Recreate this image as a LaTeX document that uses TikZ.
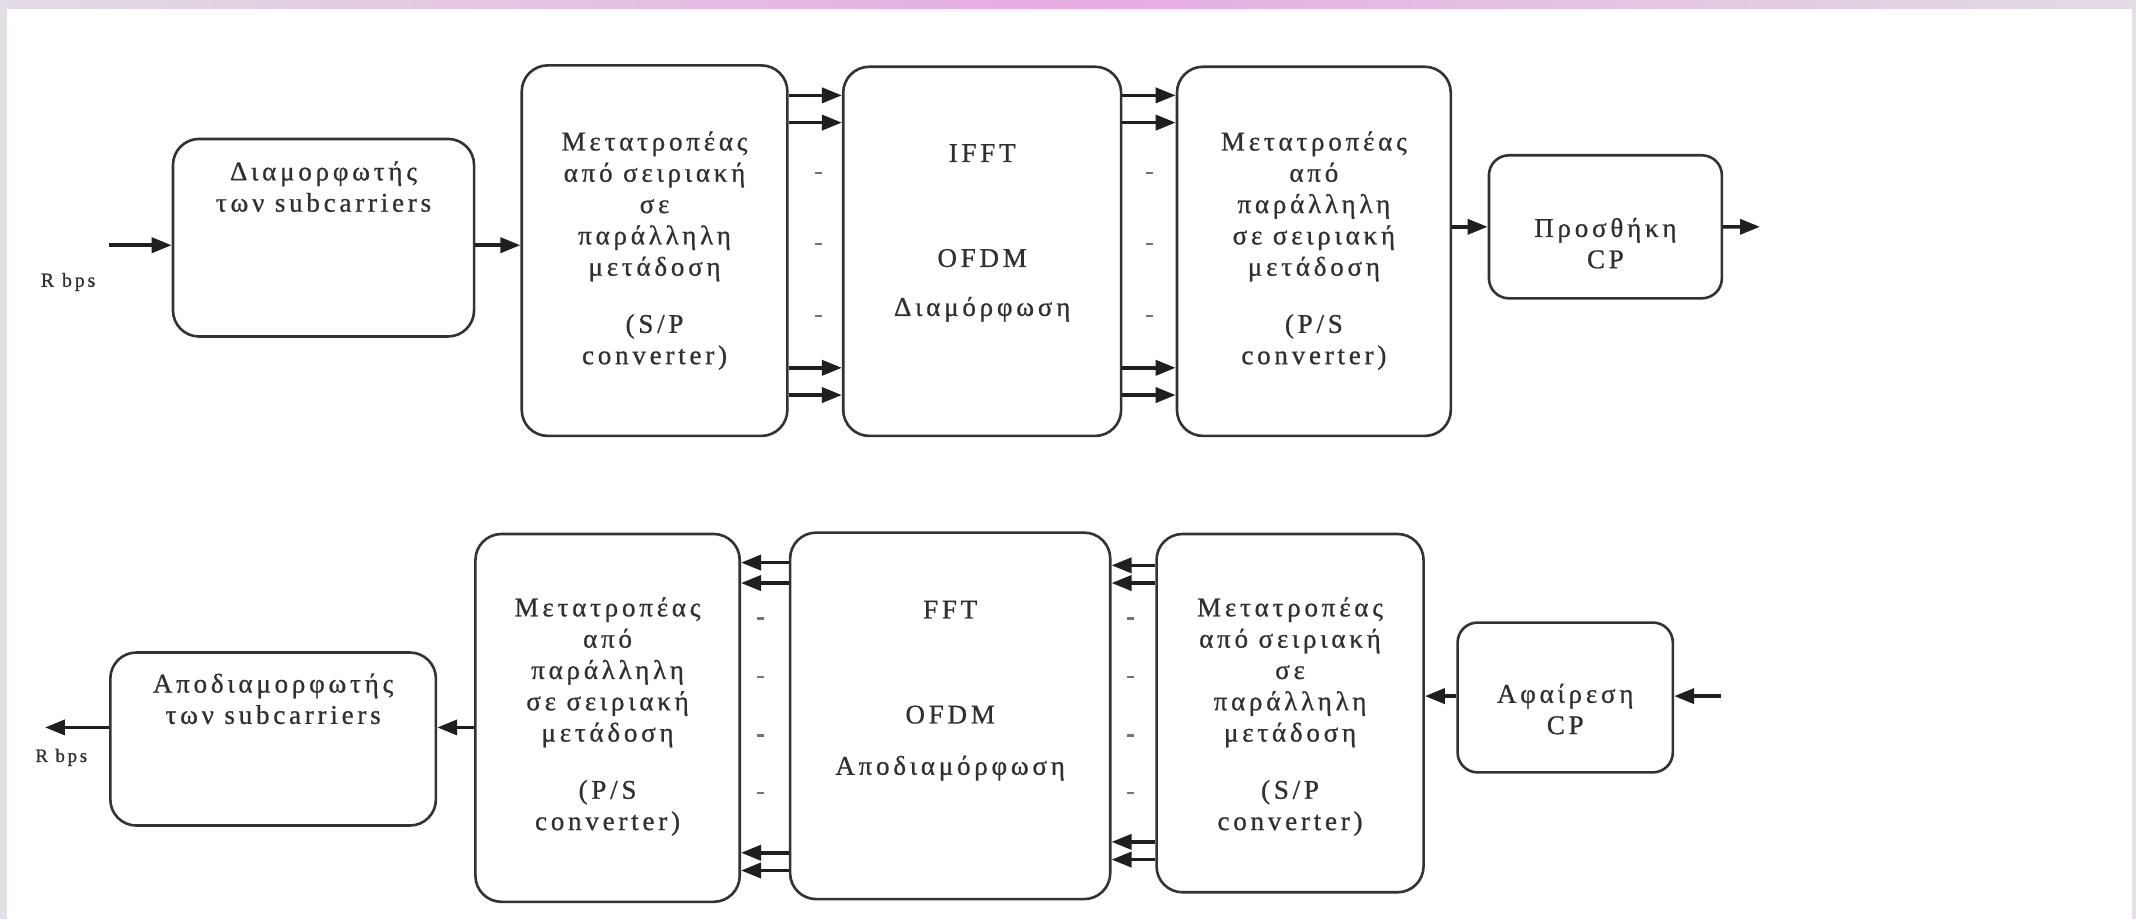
\documentclass[tikz,border=0pt]{standalone}
\usepackage{fontspec}
\setmainfont{Liberation Serif}[LetterSpace=14, FakeBold=0.8]
\usetikzlibrary{arrows.meta,fit}
\definecolor{linec}{HTML}{333333}
\definecolor{txtc}{HTML}{303030}
\definecolor{bandmid}{RGB}{230,172,226}
\definecolor{bandedge}{RGB}{226,220,228}
\definecolor{sidec}{RGB}{228,222,230}
\tikzset{
  blk/.style={draw=linec, line width=2.6pt, rounded corners=26pt, fill=white, inner sep=0pt},
  blks/.style={blk, rounded corners=20pt},
  arr/.style={draw=black!88, line width=3.6pt, -{Triangle[length=20pt,width=15pt]}},
  lbl/.style={text=txtc, align=center, inner sep=0pt, font={\fontsize{27}{31.3}\selectfont}},
  small/.style={text=txtc, inner sep=0pt, font={\fontsize{20}{24}\selectfont}},
  dotm/.style={fill=black!55, draw=none, minimum width=7pt, minimum height=2.5pt, inner sep=0pt, rectangle}
}
\begin{document}
\begin{tikzpicture}[x=1.3622pt, y=-1.3622pt]
\useasboundingbox (0,0) rectangle (1568,674.64);
\fill[white] (0,0) rectangle (1568,674.64);
\fill[sidec] (0,0) rectangle (5.5,674.64);
\fill[sidec] (1565,0) rectangle (1568,674.64);
\shade[left color=bandedge, right color=bandedge, middle color=bandmid] (0,0) rectangle (1568,6.6);

% top row boxes
\node[blk, fit={(127,102) (348,247)}] (A) {};
\node[blk, fit={(383,48) (578,320)}] (B) {};
\node[blk, fit={(619,49) (823,320)}] (C) {};
\node[blk, fit={(864,49) (1065,320)}] (D) {};
\node[blks, fit={(1093,114) (1264,219)}] (E) {};

% bottom row boxes
\node[blk, fit={(81,479) (320,606)}] (F) {};
\node[blk, fit={(349,392) (543,662)}] (G) {};
\node[blk, fit={(580,391) (815,660)}] (H) {};
\node[blk, fit={(849,392) (1045,655)}] (I) {};
\node[blks, fit={(1070,457) (1228,567)}] (J) {};

% labels top
\node[lbl] (tA) at (237.5,137) {Διαμορφωτής\\των subcarriers};
\node[lbl] (tB) at (480.5,184) {Μετατροπέας\\από σειριακή\\σε\\παράλληλη\\μετάδοση\\[25.9pt](S/P\\converter)};
\node[lbl] (tC) at (721,171) {IFFT\\[73.7pt]OFDM\\[17.7pt]Διαμόρφωση};
\node[lbl] (tD) at (964.5,184) {Μετατροπέας\\από\\παράλληλη\\σε σειριακή\\μετάδοση\\[25.9pt](P/S\\converter)};
\node[lbl] (tE) at (1178.5,178.5) {Προσθήκη\\CP};
\node[small] (rin) at (50,207) {R bps};

% labels bottom
\node[lbl] (tF) at (200.5,513) {Αποδιαμορφωτής\\των subcarriers};
\node[lbl] (tG) at (446,526) {Μετατροπέας\\από\\παράλληλη\\σε σειριακή\\μετάδοση\\[25.9pt](P/S\\converter)};
\node[lbl] (tH) at (697.5,507) {FFT\\[73.7pt]OFDM\\[20pt]Αποδιαμόρφωση};
\node[lbl] (tI) at (947,526) {Μετατροπέας\\από σειριακή\\σε\\παράλληλη\\μετάδοση\\[25.9pt](S/P\\converter)};
\node[lbl] (tJ) at (1149,520.5) {Αφαίρεση\\CP};
\node[small, font={\fontsize{19}{23}\selectfont}] (rout) at (45,556) {R bps};

% top row arrows
\coordinate (inA) at (80,180);
\draw[arr] (inA) -- (inA -| A.west);
\draw[arr] (A.east |- 0,180) -- (B.west |- 0,180);
\foreach \yy in {70,90,270,290} {
  \draw[arr] (B.east |- 0,\yy) -- (C.west |- 0,\yy);
  \draw[arr] (C.east |- 0,\yy) -- (D.west |- 0,\yy);
}
\draw[arr] (D.east |- E.west) -- (E.west);
\coordinate (outE) at (1292,166.5);
\draw[arr] (E.east) -- (outE);

% top dots
\node[dotm] (dbc1) at (601,127) {};
\node[dotm] (dbc2) at (601,179) {};
\node[dotm] (dbc3) at (601,232) {};
\node[dotm] (dcd1) at (844,127) {};
\node[dotm] (dcd2) at (844,179) {};
\node[dotm] (dcd3) at (844,232) {};

% bottom row arrows
\coordinate (inJ) at (1263,511);
\draw[arr] (inJ) -- (inJ -| J.east);
\draw[arr] (J.west |- 0,511) -- (I.east |- 0,511);
\foreach \yy in {415,428,618,631} {
  \draw[arr] (I.west |- 0,\yy) -- (H.east |- 0,\yy);
}
\foreach \yy in {413,428,626,639} {
  \draw[arr] (H.west |- 0,\yy) -- (G.east |- 0,\yy);
}
\draw[arr] (G.west |- 0,534) -- (F.east |- 0,534);
\coordinate (outF) at (33,534);
\draw[arr] (F.west |- outF) -- (outF);

% bottom dots
\node[dotm] (dgh1) at (558,454) {};
\node[dotm] (dgh2) at (558,497) {};
\node[dotm] (dgh3) at (558,540) {};
\node[dotm] (dgh4) at (558,582) {};
\node[dotm] (dhi1) at (830,454) {};
\node[dotm] (dhi2) at (830,497) {};
\node[dotm] (dhi3) at (830,540) {};
\node[dotm] (dhi4) at (830,582) {};
\end{tikzpicture}
\end{document}
